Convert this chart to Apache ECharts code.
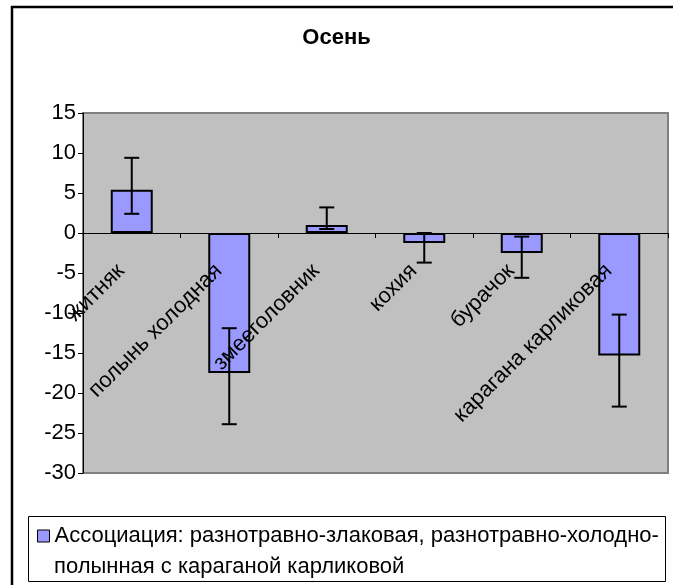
<!DOCTYPE html>
<html>
<head>
<meta charset="utf-8">
<script src="https://cdn.jsdelivr.net/npm/echarts@6/dist/echarts.min.js"></script>
<style>
html,body{margin:0;padding:0;background:#fff;}
#c{width:673px;height:585px;}
</style>
</head>
<body>
<div id="c"></div>
<script>
var categories = ['житняк', 'полынь холодная', 'змееголовник', 'кохия', 'бурачок', 'карагана карликовая'];
var values = [5.4, -17.5, 1.0, -1.25, -2.5, -15.3];
var errLow = [2.4, -23.9, 0.5, -3.7, -5.6, -21.7];
var errHigh = [9.4, -11.9, 3.2, 0, -0.45, -10.2];
var yTicks = [-30, -25, -20, -15, -10, -5, 0, 5, 10, 15];
var legendLine1 = 'Ассоциация: разнотравно-злаковая, разнотравно-холодно-';
var legendLine2 = 'полынная с караганой карликовой';
var seriesName = legendLine1 + '\n' + legendLine2;
var titleText = 'Осень';

var FONT = '"Liberation Sans", Arial, sans-serif';
var chart = echarts.init(document.getElementById('c'));

var errData = categories.map(function (c, i) { return [i, errLow[i], errHigh[i]]; });

chart.setOption({
  animation: false,
  backgroundColor: '#fff',
  title: {
    text: titleText, left: 'center', top: 27, padding: 0,
    textStyle: { fontFamily: FONT, fontSize: 22, fontWeight: 'bold', color: '#000' }
  },
  graphic: [
    { type: 'rect', shape: { x: 12, y: 7, width: 700, height: 620 }, style: { fill: 'none', stroke: '#000', lineWidth: 2.5 }, z: 100 },
    { type: 'rect', shape: { x: 28.5, y: 516.5, width: 637, height: 65 }, style: { fill: '#fff', stroke: '#000', lineWidth: 1 }, z: 0 },
    { type: 'text', x: 54, y: 567, style: { text: legendLine2, font: '22px ' + FONT, fill: '#000', verticalAlign: 'middle' }, z: 10 }
  ],
  legend: {
    left: 37, top: 523, padding: 0,
    itemWidth: 12, itemHeight: 12,
    icon: 'rect',
    itemStyle: { borderColor: '#000', borderWidth: 1 },
    formatter: function (name) { return name.split('\n')[0]; },
    textStyle: { fontFamily: FONT, fontSize: 22, color: '#000', lineHeight: 26 },
    data: [seriesName]
  },
  grid: {
    left: 83, right: 5, top: 113, bottom: 112,
    outerBoundsMode: 'none', containLabel: false,
    show: true, backgroundColor: '#c0c0c0', borderColor: '#808080', borderWidth: 2
  },
  xAxis: {
    type: 'category', data: categories, z: 5,
    axisLine: { onZero: true, lineStyle: { color: '#000', width: 1 } },
    axisTick: { show: true, length: 5, lineStyle: { color: '#000' } },
    axisLabel: {
      rotate: 45, margin: -216, padding: [0, 15, 0, 0], interval: 0,
      fontFamily: FONT, fontSize: 22, color: '#000'
    },
    splitLine: { show: false }
  },
  yAxis: {
    type: 'value', min: yTicks[0], max: yTicks[yTicks.length - 1], interval: 5,
    axisLine: { show: true, lineStyle: { color: '#000', width: 1 } },
    axisTick: { show: true, length: 5, lineStyle: { color: '#000' } },
    axisLabel: { margin: 7, fontFamily: FONT, fontSize: 22, color: '#000' },
    splitLine: { show: false }
  },
  series: [
    {
      name: seriesName, type: 'bar', data: values, barWidth: 42, z: 2,
      itemStyle: { color: '#9999ff', borderColor: '#000', borderWidth: 2 }
    },
    {
      type: 'custom', z: 3, data: errData,
      renderItem: function (params, api) {
        var x = api.value(0);
        var lo = api.coord([x, api.value(1)]);
        var hi = api.coord([x, api.value(2)]);
        var hw = 7.5;
        var st = { stroke: '#000', lineWidth: 2 };
        return {
          type: 'group',
          children: [
            { type: 'line', shape: { x1: lo[0], y1: lo[1], x2: hi[0], y2: hi[1] }, style: st },
            { type: 'line', shape: { x1: lo[0] - hw, y1: lo[1], x2: lo[0] + hw, y2: lo[1] }, style: st },
            { type: 'line', shape: { x1: hi[0] - hw, y1: hi[1], x2: hi[0] + hw, y2: hi[1] }, style: st }
          ]
        };
      }
    }
  ]
});
</script>
</body>
</html>
